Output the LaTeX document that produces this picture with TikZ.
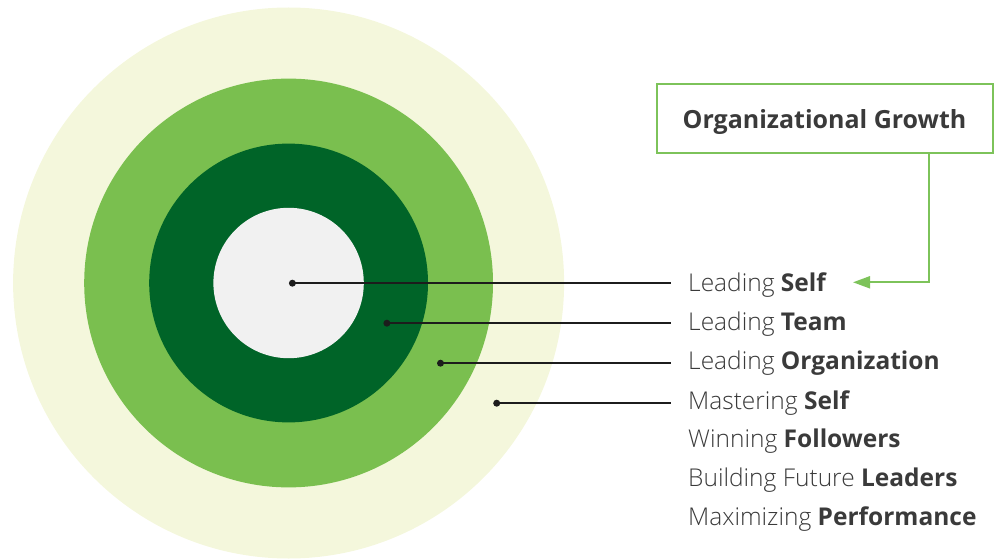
\documentclass[tikz,border=0pt]{standalone}
\usepackage{fontspec}
\setmainfont{Open Sans}[UprightFont={* Light},BoldFont={* Bold}]
\usetikzlibrary{arrows.meta}
\definecolor{ringA}{HTML}{F4F7DC}
\definecolor{ringB}{HTML}{7ABF4F}
\definecolor{ringC}{HTML}{006428}
\definecolor{ringD}{HTML}{F1F1F1}
\definecolor{txt}{HTML}{3A3A3A}
\definecolor{gline}{HTML}{7DC35A}
\definecolor{dotc}{HTML}{1C1C1C}
\tikzset{
  lbl/.style={anchor=base west,inner sep=0pt,text=txt,font=\fontsize{24.5}{27}\selectfont},
  dotn/.style={circle,fill=dotc,inner sep=0pt,minimum size=7pt},
  lead/.style={draw=dotc,line width=1.6pt},
  gbox/.style={draw=gline,line width=2pt,minimum width=336pt,minimum height=69pt,text=txt,font=\fontsize{25}{28}\selectfont\bfseries},
  garrow/.style={draw=gline,line width=2pt,-{Triangle[length=17pt,width=12pt]}}
}
\begin{document}
\begin{tikzpicture}[x=1pt,y=-1pt]
\useasboundingbox (0,0) rectangle (1004,559);
\fill[ringA] (288.6,283) circle[radius=275.5pt];
\fill[ringB] (288.6,283) circle[radius=204.4pt];
\fill[ringC] (288.6,283) circle[radius=139.4pt];
\fill[ringD] (288.6,283) circle[radius=75.2pt];
% dots
\node[dotn] (d1) at (292.4,283.2) {};
\node[dotn] (d2) at (386.9,323.2) {};
\node[dotn] (d3) at (440.5,363.2) {};
\node[dotn] (d4) at (496.7,403.2) {};
\coordinate (e1) at (671,283.2);
\coordinate (e2) at (671,323.2);
\coordinate (e3) at (671,363.2);
\coordinate (e4) at (671,403.2);
\draw[lead] (d1.center) -- (e1);
\draw[lead] (d2.center) -- (e2);
\draw[lead] (d3.center) -- (e3);
\draw[lead] (d4.center) -- (e4);
% labels
\node[lbl] (t1) at (688,291) {Leading \textbf{Self}};
\node[lbl] (t2) at (688,330.8) {Leading \textbf{Team}};
\node[lbl] (t3) at (688,369.8) {Leading \textbf{Organization}};
\node[lbl] (t4) at (688,409) {Mastering \textbf{Self}};
\node[lbl] (t5) at (688,447.8) {Winning \textbf{Followers}};
\node[lbl] (t6) at (688,486.6) {Building Future \textbf{Leaders}};
\node[lbl] (t7) at (688,525.2) {Maximizing \textbf{Performance}};
% box and arrow
\node[gbox] (og) at (824.5,118.8) {};
\node[anchor=base,inner sep=0pt,text=txt,font=\fontsize{25}{28}\selectfont\bfseries] (ogt) at (824.5,128.5) {Organizational Growth};
\coordinate (tip) at (853,282.3);
\draw[garrow] (og.south -| 929.3,0) |- (tip);
\end{tikzpicture}
\end{document}
